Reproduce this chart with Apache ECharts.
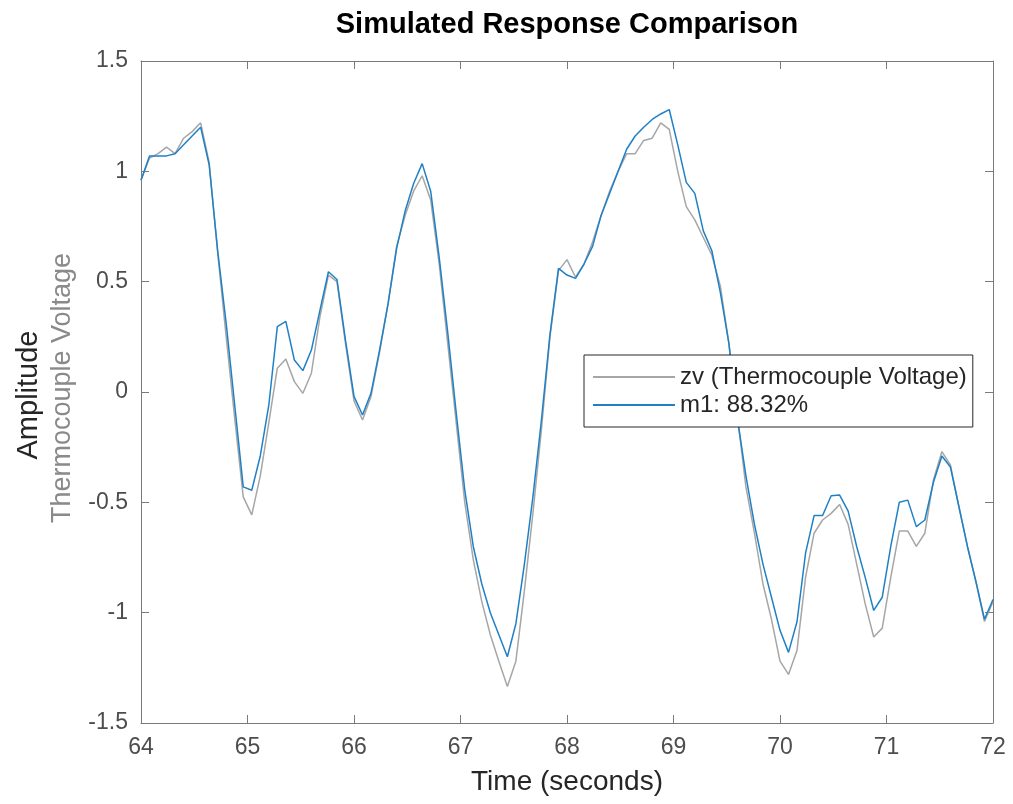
<!DOCTYPE html>
<html>
<head>
<meta charset="utf-8">
<script src="https://cdn.jsdelivr.net/npm/echarts@6/dist/echarts.min.js"></script>
<style>
html,body{margin:0;padding:0;background:#fff;}
#chart{width:1013px;height:804px;}
</style>
</head>
<body>
<div id="chart"></div>
<script>
const titleText = 'Simulated Response Comparison';
const xLabel = 'Time (seconds)';
const yLabel1 = 'Amplitude';
const yLabel2 = 'Thermocouple Voltage';
const seriesNames = ['zv (Thermocouple Voltage)', 'm1: 88.32%'];

const time = [64.00,64.08,64.16,64.24,64.32,64.40,64.48,64.56,64.64,64.72,64.80,64.88,64.96,
65.04,65.12,65.20,65.28,65.36,65.44,65.52,65.60,65.68,65.76,65.84,65.92,
66.00,66.08,66.16,66.24,66.32,66.40,66.48,66.56,66.64,66.72,66.80,66.88,66.96,
67.04,67.12,67.20,67.28,67.36,67.44,67.52,67.60,67.68,67.76,67.84,67.92,
68.00,68.08,68.16,68.24,68.32,68.40,68.48,68.56,68.64,68.72,68.80,68.88,68.96,
69.04,69.12,69.20,69.28,69.36,69.44,69.52,69.60,69.68,69.76,69.84,69.92,
70.00,70.08,70.16,70.24,70.32,70.40,70.48,70.56,70.64,70.72,70.80,70.88,70.96,
71.04,71.12,71.20,71.28,71.36,71.44,71.52,71.60,71.68,71.76,71.84,71.92,72.00];

const zv = [0.96,1.06,1.08,1.11,1.08,1.15,1.18,1.22,1.04,0.63,0.25,-0.12,-0.475,
-0.557,-0.38,-0.14,0.108,0.15,0.047,-0.006,0.085,0.34,0.53,0.50,0.22,
-0.04,-0.127,-0.02,0.18,0.40,0.66,0.80,0.91,0.98,0.87,0.58,0.22,-0.14,
-0.50,-0.76,-0.95,-1.10,-1.22,-1.335,-1.22,-0.90,-0.55,-0.17,0.25,0.55,
0.60,0.52,0.58,0.68,0.80,0.91,1.00,1.08,1.08,1.14,1.15,1.22,1.19,
1.00,0.84,0.78,0.70,0.62,0.48,0.22,-0.11,-0.43,-0.64,-0.87,-1.03,
-1.22,-1.28,-1.17,-0.84,-0.64,-0.58,-0.55,-0.51,-0.60,-0.78,-0.96,-1.11,-1.07,
-0.84,-0.63,-0.63,-0.70,-0.64,-0.40,-0.27,-0.33,-0.52,-0.70,-0.86,-1.04,-0.95];

const m1 = [0.96,1.07,1.07,1.07,1.08,1.12,1.16,1.20,1.03,0.64,0.31,-0.06,-0.43,
-0.445,-0.29,-0.06,0.296,0.32,0.145,0.097,0.19,0.37,0.545,0.51,0.235,
-0.02,-0.104,-0.005,0.19,0.40,0.65,0.82,0.945,1.035,0.91,0.61,0.27,-0.095,
-0.445,-0.70,-0.87,-1.00,-1.10,-1.20,-1.05,-0.78,-0.475,-0.127,0.26,0.56,
0.53,0.515,0.58,0.66,0.80,0.90,1.00,1.10,1.16,1.20,1.235,1.26,1.28,
1.12,0.95,0.90,0.73,0.64,0.45,0.22,-0.12,-0.38,-0.60,-0.78,-0.93,
-1.08,-1.18,-1.04,-0.73,-0.56,-0.56,-0.47,-0.467,-0.54,-0.70,-0.84,-0.99,-0.93,
-0.70,-0.50,-0.49,-0.61,-0.58,-0.41,-0.29,-0.34,-0.52,-0.70,-0.86,-1.03,-0.94];

const xTicks = {min:64, max:72, interval:1};
const yTicks = {min:-1.5, max:1.5, interval:0.5};

const FONT = '"Liberation Sans", Arial, Helvetica, sans-serif';
const axisCol = '#7a7a7a';
const labelCol = '#4d4d4d';

const chart = echarts.init(document.getElementById('chart'), null, {renderer:'canvas'});

function axisCommon(extra){
  return Object.assign({
    type:'value',
    axisLine:{show:true, onZero:false, lineStyle:{color:axisCol, width:1}},
    axisTick:{show:true, inside:true, length:8, lineStyle:{color:axisCol, width:1}},
    splitLine:{show:false},
    axisLabel:{show:false}
  }, extra);
}

chart.setOption({
  animation:false,
  backgroundColor:'#ffffff',
  title:{
    text:titleText,
    left:562, top:5, textAlign:'center',
    textStyle:{fontFamily:FONT, fontSize:29, fontWeight:'bold', color:'#000000'}
  },
  grid:{left:141, right:20, top:61, bottom:81, containLabel:false},
  legend:{
    orient:'vertical',
    left:584, top:355,
    data:seriesNames,
    icon:'rect',
    itemWidth:82, itemHeight:2,
    itemGap:4,
    padding:[10,6,10,9],
    borderColor:'#262626', borderWidth:1,
    backgroundColor:'#ffffff',
    textStyle:{fontFamily:FONT, fontSize:24, color:'#262626'}
  },
  xAxis:[
    axisCommon({
      position:'bottom', min:xTicks.min, max:xTicks.max, interval:xTicks.interval,
      axisLabel:{show:true, fontFamily:FONT, fontSize:23, color:labelCol, margin:13},
      name:xLabel, nameLocation:'middle', nameGap:45,
      nameTextStyle:{fontFamily:FONT, fontSize:28, color:'#262626'}
    }),
    axisCommon({position:'top', min:xTicks.min, max:xTicks.max, interval:xTicks.interval})
  ],
  yAxis:[
    axisCommon({
      position:'left', min:yTicks.min, max:yTicks.max, interval:yTicks.interval,
      axisLabel:{show:true, fontFamily:FONT, fontSize:23, color:labelCol, margin:13}
    }),
    axisCommon({position:'right', min:yTicks.min, max:yTicks.max, interval:yTicks.interval})
  ],
  graphic:[
    {type:'text', x:29, y:395, rotation:Math.PI/2,
     style:{text:yLabel1, fontFamily:FONT, fontSize:29, fill:'#262626', align:'center', verticalAlign:'middle'}},
    {type:'text', x:63, y:388, rotation:Math.PI/2,
     style:{text:yLabel2, fontFamily:FONT, fontSize:27, fill:'#8a8a8a', align:'center', verticalAlign:'middle'}}
  ],
  series:[
    {name:seriesNames[0], type:'line', xAxisIndex:0, yAxisIndex:0,
     data:time.map((t,i)=>[t, zv[i]]), showSymbol:false, symbol:'none',
     lineStyle:{color:'#a6a6a6', width:1.5}, itemStyle:{color:'#a6a6a6'}, z:2},
    {name:seriesNames[1], type:'line', xAxisIndex:0, yAxisIndex:0,
     data:time.map((t,i)=>[t, m1[i]]), showSymbol:false, symbol:'none',
     lineStyle:{color:'#1f80c6', width:1.5}, itemStyle:{color:'#1f80c6'}, z:3}
  ]
});
</script>
</body>
</html>
